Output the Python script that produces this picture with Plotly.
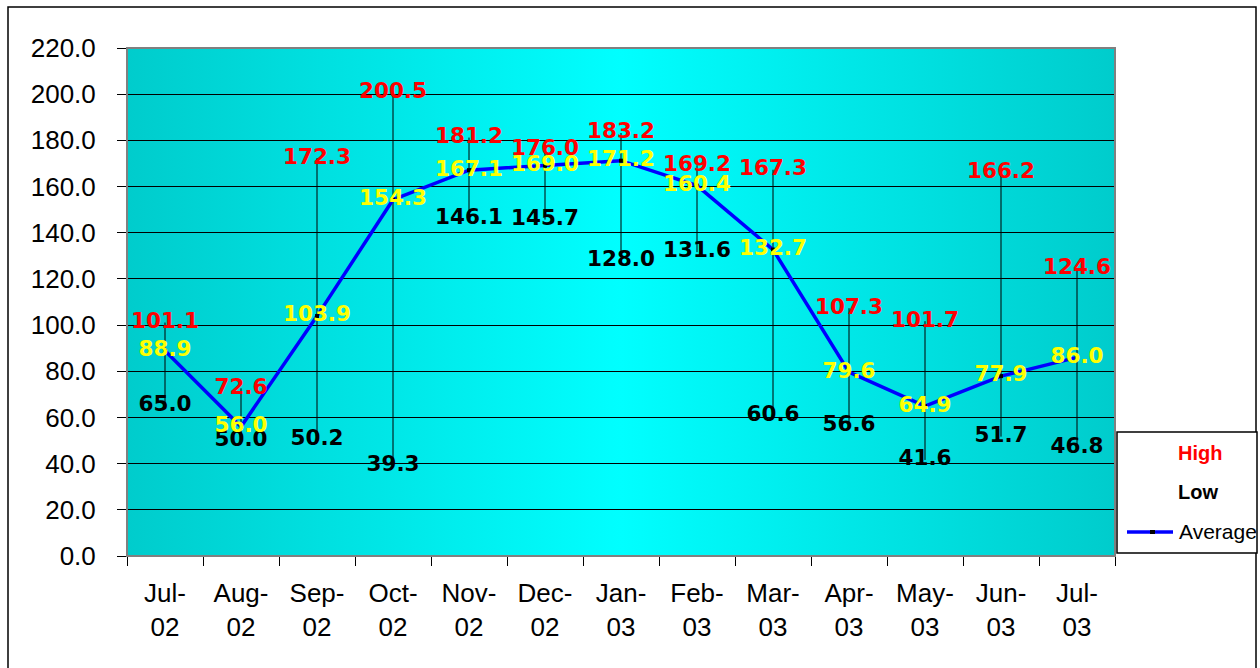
import base64
import plotly.graph_objects as go

months = ["Jul-02", "Aug-02", "Sep-02", "Oct-02", "Nov-02", "Dec-02", "Jan-03",
          "Feb-03", "Mar-03", "Apr-03", "May-03", "Jun-03", "Jul-03"]
high = [101.1, 72.6, 172.3, 200.5, 181.2, 176.0, 183.2, 169.2, 167.3, 107.3, 101.7, 166.2, 124.6]
low = [65.0, 50.0, 50.2, 39.3, 146.1, 145.7, 128.0, 131.6, 60.6, 56.6, 41.6, 51.7, 46.8]
average = [88.9, 56.0, 103.9, 154.3, 167.1, 169.0, 171.2, 160.4, 132.7, 79.6, 64.9, 77.9, 86.0]
tick_labels = [m.replace("-", "-<br>") for m in months]

W, H = 1260, 668
L, R, T, B = 127, 1115, 48, 556


def px(x):
    return (x - L) / (R - L)


def py(y):
    return (B - y) / (B - T)


# high-low connector lines
hl_x, hl_y = [], []
for m, h, l in zip(months, high, low):
    hl_x += [m, m, None]
    hl_y += [l, h, None]

fig = go.Figure()
fig.add_trace(go.Scatter(x=hl_x, y=hl_y, mode="lines",
                         line=dict(color="black", width=1), hoverinfo="skip"))
fig.add_trace(go.Scatter(x=months, y=average, mode="lines+markers",
                         line=dict(color="#0000FF", width=3.5),
                         marker=dict(symbol="square", size=4, color="black")))

lab_font = "DejaVu Sans"
for vals, col in [(low, "black"), (high, "#FF0000"), (average, "#FFFF00")]:
    fig.add_trace(go.Scatter(x=months, y=vals, mode="text",
                             text=[f"{v:.1f}" for v in vals],
                             textposition="middle center",
                             textfont=dict(family=lab_font, size=21.5, color=col, weight="bold"),
                             hoverinfo="skip"))

svg = ('<svg xmlns="http://www.w3.org/2000/svg" width="200" height="10" preserveAspectRatio="none">'
       '<defs><linearGradient id="g" x1="0" y1="0" x2="1" y2="0">'
       '<stop offset="0" stop-color="#00CCCC"/><stop offset="0.5" stop-color="#00FFFF"/>'
       '<stop offset="1" stop-color="#00CCCC"/></linearGradient></defs>'
       '<rect width="200" height="10" fill="url(#g)"/></svg>')
src = "data:image/svg+xml;base64," + base64.b64encode(svg.encode()).decode()

fig.update_layout(
    width=W, height=H,
    margin=dict(l=L, r=W - R, t=T, b=H - B, pad=0),
    paper_bgcolor="white", plot_bgcolor="rgba(0,0,0,0)",
    showlegend=False,
    font=dict(family="Liberation Sans, Arial", size=26, color="black"),
    images=[dict(source=src, xref="paper", yref="paper", x=0, y=1, sizex=1, sizey=1,
                 sizing="stretch", layer="below", xanchor="left", yanchor="top")],
)
fig.update_xaxes(type="category", range=[-0.5, 12.5], tickmode="array",
                 tickvals=months, ticktext=tick_labels, tickson="boundaries",
                 ticks="outside", ticklen=9, tickcolor="black", tickwidth=1,
                 showgrid=False, showline=True, linecolor="black", linewidth=1,
                 zeroline=False, ticklabelstandoff=14)
fig.update_yaxes(range=[0, 220], dtick=20, tickformat=".1f",
                 ticks="outside", ticklen=9, tickcolor="black", tickwidth=1,
                 showgrid=True, gridcolor="black", gridwidth=1,
                 showline=True, linecolor="black", linewidth=1,
                 zeroline=False, ticklabelstandoff=16)

shapes = [
    # plot area border
    dict(type="rect", xref="paper", yref="paper", x0=0, x1=1, y0=0, y1=1,
         line=dict(color="#808080", width=2), layer="above"),
    # outer chart border
    dict(type="rect", xref="paper", yref="paper", x0=px(8), x1=px(1256), y0=py(700), y1=py(7),
         line=dict(color="black", width=1.5)),
    # legend box
    dict(type="rect", xref="paper", yref="paper", x0=px(1117), x1=px(1257), y0=py(553), y1=py(432),
         line=dict(color="black", width=1.5), fillcolor="white"),
    # legend average line sample
    dict(type="line", xref="paper", yref="paper", x0=px(1127), x1=px(1173), y0=py(532), y1=py(532),
         line=dict(color="#0000FF", width=3.5)),
    dict(type="rect", xref="paper", yref="paper", x0=px(1150), x1=px(1155), y0=py(530), y1=py(534),
         line=dict(width=0), fillcolor="black"),
]
fig.update_layout(shapes=shapes)

anns = [
    dict(text="<b>High</b>", x=px(1200), y=py(453), font=dict(size=20, color="#FF0000")),
    dict(text="<b>Low</b>", x=px(1198), y=py(492), font=dict(size=20, color="black")),
    dict(text="Average", x=px(1177), y=py(531), xanchor="left", font=dict(size=21, color="black")),
]
for a in anns:
    a.setdefault("xanchor", "center")
    a.update(xref="paper", yref="paper", yanchor="middle", showarrow=False)
    a["font"]["family"] = "Liberation Sans, Arial"
fig.update_layout(annotations=anns)

fig.write_html("out.html", config={"displayModeBar": False},
               post_script="document.body.style.margin='0';")
